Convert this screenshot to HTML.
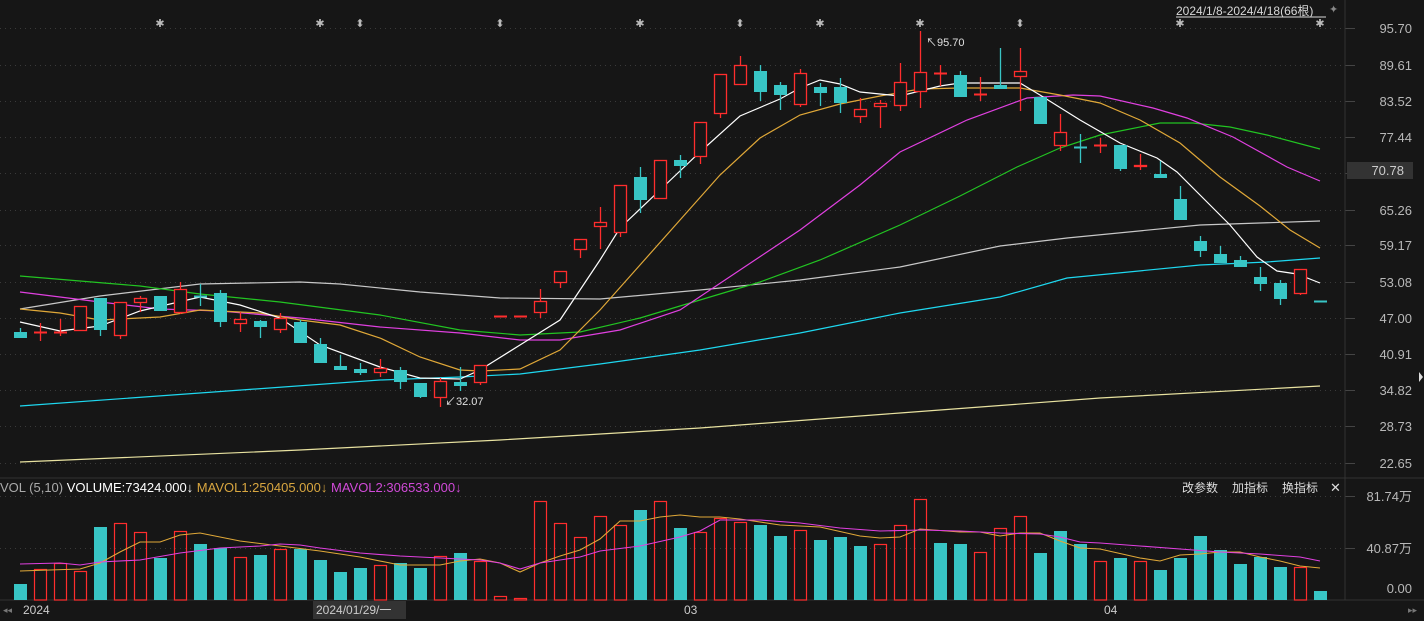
<!DOCTYPE html>
<html><head><meta charset="utf-8"><style>
html,body{margin:0;padding:0;background:#161616;}
svg{display:block;}
text{font-family:"Liberation Sans","Noto Sans CJK SC",sans-serif;}
</style></head><body>
<svg id="s" width="1424" height="621" xmlns="http://www.w3.org/2000/svg">
<rect width="1424" height="621" fill="#161616"/>
<g id="grid" stroke="#3a3a3a" stroke-dasharray="1,4"></g>
<line x1="1345" y1="0" x2="1345" y2="600" stroke="#333"/>
<line x1="0" y1="478" x2="1424" y2="478" stroke="#333"/>
<line x1="0" y1="600" x2="1424" y2="600" stroke="#333"/>
<g id="lines" fill="none"></g>
<g id="cand"></g>
<g font-size="13" fill="#b8b8b8" text-anchor="end">
<text x="1412" y="33">95.70</text><text x="1412" y="70">89.61</text><text x="1412" y="106">83.52</text><text x="1412" y="142">77.44</text>
<text x="1412" y="215">65.26</text><text x="1412" y="250">59.17</text><text x="1412" y="287">53.08</text><text x="1412" y="323">47.00</text>
<text x="1412" y="359">40.91</text><text x="1412" y="395">34.82</text><text x="1412" y="431">28.73</text><text x="1412" y="468">22.65</text>
<text x="1412" y="501">81.74万</text><text x="1412" y="553">40.87万</text><text x="1412" y="593">0.00</text>
</g>
<rect x="1347" y="162" width="66" height="17" fill="#333"/>
<text x="1404" y="175" font-size="13" fill="#ccc" text-anchor="end">70.78</text>
<path d="M1419 372 L1423 377 L1419 382Z" fill="#ddd"/>
<text x="1176" y="15" font-size="12" fill="#d8d8d8">2024/1/8-2024/4/18(66根)</text>
<line x1="1176" y1="17" x2="1326" y2="17" stroke="#d8d8d8"/>
<text x="1329" y="13" font-size="11" fill="#888">✦</text>
<g font-size="11" fill="#bbb" text-anchor="middle">
<text x="160" y="27">✱</text><text x="320" y="27">✱</text><text x="640" y="27">✱</text><text x="820" y="27">✱</text><text x="920" y="27">✱</text><text x="1180" y="27">✱</text><text x="1320" y="27">✱</text>
<text x="360" y="27">⬍</text><text x="500" y="27">⬍</text><text x="740" y="27">⬍</text><text x="1020" y="27">⬍</text>
</g>
<text x="926" y="46" font-size="11" fill="#e0e0e0">↖95.70</text>
<text x="445" y="405" font-size="11" fill="#e0e0e0">↙32.07</text>
<text x="0" y="492" font-size="13"><tspan fill="#aaa">VOL (5,10) </tspan><tspan fill="#fff">VOLUME:73424.000↓ </tspan><tspan fill="#d8a640"> MAVOL1:250405.000↓ </tspan><tspan fill="#d04ad8"> MAVOL2:306533.000↓</tspan></text>
<text x="1182" y="492" font-size="12" fill="#ddd">改参数</text>
<text x="1232" y="492" font-size="12" fill="#ddd">加指标</text>
<text x="1282" y="492" font-size="12" fill="#ddd">换指标</text>
<text x="1330" y="492" font-size="13" fill="#ddd">✕</text>
<rect x="313" y="601" width="93" height="18" fill="#333"/>
<g font-size="12" fill="#ccc">
<text x="23" y="614">2024</text><text x="316" y="614">2024/01/29/一</text><text x="684" y="614">03</text><text x="1104" y="614">04</text>
<text x="3" y="613" font-size="9" fill="#777">◂◂</text><text x="1408" y="613" font-size="9" fill="#777">▸▸</text>
</g>
</svg>
<script>
const NS="http://www.w3.org/2000/svg";
function el(p,t,a){const e=document.createElementNS(NS,t);for(const k in a)e.setAttribute(k,a[k]);p.appendChild(e);return e;}
const g=document.getElementById('grid');
[28,65,101,137,173,210,245,282,318,354,390,426,463,496,548].forEach(y=>{el(g,'line',{x1:0,y1:y+.5,x2:1345,y2:y+.5});el(g,'line',{x1:1345,y1:y+.5,x2:1355,y2:y+.5,'stroke-dasharray':'none',stroke:'#444'});});
const C=[[332,338,328,338,'g'],[332,333,323,341,'r'],[332,333,319,336,'r'],[306,331,306,331,'r'],[298,330,298,336,'g'],[302,336,302,339,'r'],[298,303,296,312,'r'],[296,311,296,311,'g'],[289,313,282,314,'r'],[296,297,284,306,'g'],[293,322,290,327,'g'],[319,324,312,332,'r'],[321,327,320,338,'g'],[318,330,313,333,'r'],[322,343,320,343,'g'],[344,363,338,363,'g'],[366,370,355,370,'g'],[369,373,363,375,'g'],[368,373,359,377,'r'],[370,382,367,389,'g'],[383,397,383,398,'g'],[381,398,378,407,'r'],[382,386,367,391,'g'],[365,383,365,385,'r'],[316,317,316,317,'r'],[316,317,316,317,'r'],[301,313,289,318,'r'],[271,283,271,288,'r'],[239,250,239,258,'r'],[222,227,207,249,'r'],[185,233,185,237,'r'],[177,200,167,213,'g'],[160,199,160,199,'r'],[160,166,155,178,'g'],[122,157,122,164,'r'],[74,114,74,118,'r'],[65,85,56,85,'r'],[71,92,65,101,'g'],[85,95,82,110,'g'],[73,105,69,107,'r'],[87,93,83,106,'g'],[87,103,78,113,'g'],[109,117,98,123,'r'],[103,107,100,128,'r'],[82,106,63,111,'r'],[72,92,31,108,'r'],[73,74,65,86,'r'],[75,97,71,97,'g'],[94,95,77,101,'r'],[85,89,48,89,'g'],[71,77,48,111,'r'],[97,124,97,124,'g'],[132,146,114,151,'r'],[147,148,134,163,'g'],[145,146,138,153,'r'],[145,169,145,171,'g'],[165,167,154,170,'r'],[174,178,161,178,'g'],[199,220,186,220,'g'],[241,251,236,257,'g'],[254,263,246,263,'g'],[260,267,256,267,'g'],[277,284,267,291,'g'],[283,299,280,305,'g'],[269,294,269,295,'r'],[301,302,301,302,'g']];
const V=[[584,'g'],[569,'r'],[563,'r'],[571,'r'],[527,'g'],[523,'r'],[532,'r'],[558,'g'],[531,'r'],[544,'g'],[548,'g'],[557,'r'],[555,'g'],[549,'r'],[549,'g'],[560,'g'],[572,'g'],[568,'g'],[565,'r'],[563,'g'],[568,'g'],[556,'r'],[553,'g'],[561,'r'],[596,'r'],[598,'r'],[501,'r'],[523,'r'],[537,'r'],[516,'r'],[525,'r'],[510,'g'],[501,'r'],[528,'g'],[532,'r'],[518,'r'],[522,'r'],[525,'g'],[536,'g'],[530,'r'],[540,'g'],[537,'g'],[546,'g'],[544,'r'],[525,'r'],[499,'r'],[543,'g'],[544,'g'],[552,'r'],[528,'r'],[516,'r'],[553,'g'],[531,'g'],[544,'g'],[561,'r'],[558,'g'],[561,'r'],[570,'g'],[558,'g'],[536,'g'],[550,'g'],[564,'g'],[557,'g'],[567,'g'],[567,'r'],[591,'g']];
const RED='#ff2d2d',TEAL='#38c5c5';
const L=document.getElementById('lines'),K=document.getElementById('cand');
function poly(pts,c,w){el(L,'polyline',{points:pts.map(p=>p.join(',')).join(' '),stroke:c,'stroke-width':w||1.2});}
poly([[20,462],[300,450],[500,440],[700,428],[900,413],[1100,398],[1320,386]],'#e8e2a0');
poly([[20,406],[200,393],[380,380],[460,377],[520,374],[600,364],[700,350],[800,333],[900,313],[1000,297],[1067,278],[1200,265],[1267,262],[1320,258]],'#1ed8f0');
poly([[20,309],[100,296],[200,284],[300,282],[340,284],[420,292],[500,298],[600,299],[700,290],[800,280],[900,267],[1000,246],[1067,238],[1200,225],[1320,221]],'#c8c8c8');
poly([[20,276],[140,286],[200,294],[280,302],[380,315],[460,330],[520,335],[580,332],[640,318],[700,300],[760,282],[820,260],[900,225],[960,196],[1017,167],[1060,148],[1100,135],[1160,123],[1193,123],[1230,127],[1267,135],[1320,149]],'#22c422');
poly([[20,292],[100,302],[160,309],[220,311],[300,318],[380,327],[460,333],[520,340],[560,340],[620,330],[680,310],[740,270],[800,230],[860,185],[900,152],[967,120],[1027,98],[1073,95],[1100,96],[1153,108],[1187,118],[1233,137],[1287,167],[1320,181]],'#e040e0');
poly([[20,309],[60,313],[100,320],[160,317],[200,310],[260,313],[300,320],[340,325],[380,338],[420,357],[460,370],[480,371],[520,369],[560,350],[600,310],[640,265],[680,220],[720,175],[760,138],[800,115],[840,104],[880,96],[920,89],[960,88],[1020,88],[1060,95],[1100,103],[1140,120],[1180,143],[1220,177],[1260,206],[1290,230],[1320,248]],'#e0a838');
poly([[20,322],[60,331],[100,326],[140,311],[200,297],[240,305],[280,318],[320,345],[380,367],[420,378],[460,379],[480,370],[520,345],[560,320],[600,260],[620,228],[660,190],[700,152],[740,116],[780,99],[800,88],[820,80],[840,84],[860,92],[900,96],[940,86],[960,83],[1020,83],[1040,95],[1080,120],[1120,143],[1157,158],[1177,172],[1200,195],[1230,225],[1257,257],[1277,271],[1297,274],[1320,283]],'#ffffff');
C.forEach((c,i)=>{const x=20+20*i;const col=c[4]=='r'?RED:TEAL;let [t,b,h,l]=c;
 if(h<t)el(K,'line',{x1:x+.5,y1:h,x2:x+.5,y2:t,stroke:col,'stroke-width':1.3});
 if(l>b)el(K,'line',{x1:x+.5,y1:b,x2:x+.5,y2:l,stroke:col,'stroke-width':1.3});
 if(b-t<=1){el(K,'line',{x1:x-6,y1:t+.5,x2:x+7,y2:t+.5,stroke:col,'stroke-width':2});}
 else if(c[4]=='r')el(K,'rect',{x:x-5.5,y:t+.5,width:12,height:b-t-1,fill:'#161616',stroke:col,'stroke-width':1.3});
 else el(K,'rect',{x:x-6,y:t,width:13,height:b-t,fill:col});});
V.forEach((v,i)=>{const x=20+20*i;const col=v[1]=='r'?RED:TEAL;
 if(v[1]=='r')el(K,'rect',{x:x-5.5,y:v[0]+.5,width:12,height:599.5-v[0],fill:'none',stroke:col,'stroke-width':1.2});
 else el(K,'rect',{x:x-6,y:v[0],width:13,height:600-v[0],fill:col});});
const VL=document.createElementNS(NS,'g');document.getElementById('s').appendChild(VL);
function vp(pts,c){el(VL,'polyline',{points:pts.map(p=>p.join(',')).join(' '),stroke:c,fill:'none','stroke-width':1.1});}
vp([[20,571],[80,569],[100,563],[120,552],[140,542],[160,542],[180,535],[200,533],[240,541],[280,546],[320,551],[360,557],[400,565],[440,565],[460,561],[480,559],[500,563],[520,572],[540,563],[560,556],[580,550],[600,539],[620,521],[640,521],[660,517],[680,515],[700,517],[720,517],[740,519],[780,525],[820,527],[860,536],[880,538],[900,537],[920,529],[960,532],[980,532],[1000,536],[1020,533],[1040,533],[1060,541],[1080,548],[1100,549],[1140,558],[1160,561],[1180,555],[1200,554],[1220,552],[1240,552],[1260,557],[1280,561],[1300,566],[1320,568]],'#e0a838');
vp([[20,564],[60,563],[80,565],[100,562],[140,560],[180,553],[220,548],[260,546],[280,544],[300,545],[320,548],[360,553],[400,556],[440,558],[480,560],[500,563],[520,569],[540,563],[560,560],[580,557],[600,551],[640,546],[680,537],[700,531],[720,520],[760,520],[800,523],[840,528],[880,531],[920,530],[960,531],[1000,533],[1040,534],[1060,537],[1080,542],[1100,543],[1140,546],[1180,549],[1220,552],[1260,554],[1300,557],[1320,561]],'#e040e0');
</script>
</body></html>
